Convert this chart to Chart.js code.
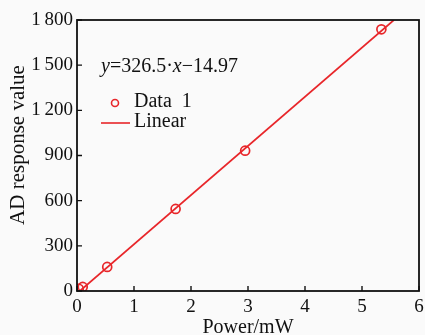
<!DOCTYPE html>
<html>
<head>
<meta charset="utf-8">
<script src="https://cdn.jsdelivr.net/npm/chart.js@4/dist/chart.umd.min.js"></script>
<style>
  html, body { margin: 0; padding: 0; background: #fafafa; }
  #wrap { width: 425px; height: 335px; }
</style>
</head>
<body>
<div id="wrap"><canvas id="chart" width="425" height="335"></canvas></div>
<script>
// measured points
const powerMW = [0.03, 0.1, 0.53, 1.73, 2.95, 5.34];
const adValue = [15, 27, 160, 545, 932, 1738];
// fitted line end points
const fitX = [0.05, 5.56];
const fitY = [0, 1800];
const xTicks = [0, 1, 2, 3, 4, 5, 6];
const yTicks = [0, 300, 600, 900, 1200, 1500, 1800];
const xTitle = "Power/mW";
const yTitle = "AD response value";
const equation = "=326.5\u00b7";

const red = "#e8262a";
const serif = "'Liberation Serif', 'Times New Roman', serif";

const fmtY = (v) => (v >= 1000 ? Math.floor(v / 1000) + "\u2009" + String(v % 1000).padStart(3, "0") : String(v));

// frame, inward ticks, titles, equation and legend
const extras = {
  id: "extras",
  afterDatasetsDraw(chart) {
    const { ctx, chartArea: a, scales } = chart;
    ctx.save();
    ctx.strokeStyle = "#111";
    ctx.lineWidth = 1.8;
    ctx.strokeRect(a.left, a.top, a.right - a.left, a.bottom - a.top);
    ctx.lineWidth = 1.4;
    ctx.beginPath();
    xTicks.forEach((t) => {
      const px = scales.x.getPixelForValue(t);
      ctx.moveTo(px, a.bottom);
      ctx.lineTo(px, a.bottom - 5);
    });
    yTicks.forEach((t) => {
      const py = scales.y.getPixelForValue(t);
      ctx.moveTo(a.left, py);
      ctx.lineTo(a.left + 5, py);
    });
    ctx.stroke();

    ctx.fillStyle = "#111";
    // axis titles
    ctx.font = "20px " + serif;
    ctx.textAlign = "center";
    ctx.textBaseline = "alphabetic";
    ctx.fillText(xTitle, 248, 333);
    ctx.save();
    ctx.translate(24, 145);
    ctx.rotate(-Math.PI / 2);
    ctx.font = "21px " + serif;
    ctx.fillText(yTitle, 0, 0);
    ctx.restore();

    // equation
    ctx.textAlign = "left";
    let x = 101;
    const yb = 72;
    ctx.font = "italic 20px " + serif;
    ctx.fillText("y", x, yb);
    x += ctx.measureText("y").width;
    ctx.font = "20px " + serif;
    ctx.fillText(equation, x, yb);
    x += ctx.measureText(equation).width;
    ctx.font = "italic 20px " + serif;
    ctx.fillText("x", x, yb);
    x += ctx.measureText("x").width;
    ctx.font = "20px " + serif;
    ctx.fillText("\u221214.97", x, yb);

    // legend
    const ds = chart.data.datasets;
    ctx.strokeStyle = red;
    ctx.lineWidth = 1.6;
    ctx.beginPath();
    ctx.arc(115, 103, 3.5, 0, Math.PI * 2);
    ctx.stroke();
    ctx.beginPath();
    ctx.moveTo(101, 123);
    ctx.lineTo(130, 123);
    ctx.stroke();
    ctx.fillStyle = "#111";
    ctx.font = "20px " + serif;
    ctx.textBaseline = "middle";
    ctx.fillText(ds[0].label, 134, 102);
    ctx.fillText(ds[1].label, 134, 122);
    ctx.restore();
  },
};

new Chart(document.getElementById("chart"), {
  type: "scatter",
  data: {
    datasets: [
      {
        label: "Data  1",
        data: powerMW.map((p, i) => ({ x: p, y: adValue[i] })),
        borderColor: red,
        backgroundColor: "rgba(0,0,0,0)",
        borderWidth: 1.7,
        pointRadius: 4.5,
        order: 1,
      },
      {
        label: "Linear",
        type: "line",
        data: fitX.map((p, i) => ({ x: p, y: fitY[i] })),
        borderColor: red,
        borderWidth: 1.7,
        pointRadius: 0,
        fill: false,
        order: 2,
      },
    ],
  },
  options: {
    responsive: false,
    animation: false,
    layout: { autoPadding: false, padding: { top: 20, right: 6, left: 0, bottom: 0 } },
    plugins: { legend: { display: false }, tooltip: { enabled: false } },
    scales: {
      x: {
        type: "linear",
        min: 0,
        max: 6,
        afterBuildTicks: (s) => { s.ticks = xTicks.map((v) => ({ value: v })); },
        afterFit: (s) => { s.height = 44; s.paddingLeft = 0; s.paddingRight = 0; },
        grid: { display: false, drawTicks: false },
        border: { display: false },
        ticks: { color: "#111", font: { family: serif, size: 19 }, padding: 5, maxRotation: 0 },
      },
      y: {
        min: 0,
        max: 1800,
        afterBuildTicks: (s) => { s.ticks = yTicks.map((v) => ({ value: v })); },
        afterFit: (s) => { s.width = 77; s.paddingTop = 0; s.paddingBottom = 0; },
        grid: { display: false, drawTicks: false },
        border: { display: false },
        ticks: { color: "#111", font: { family: serif, size: 19 }, padding: 4, callback: (v) => fmtY(v) },
      },
    },
  },
  plugins: [extras],
});
</script>
</body>
</html>
